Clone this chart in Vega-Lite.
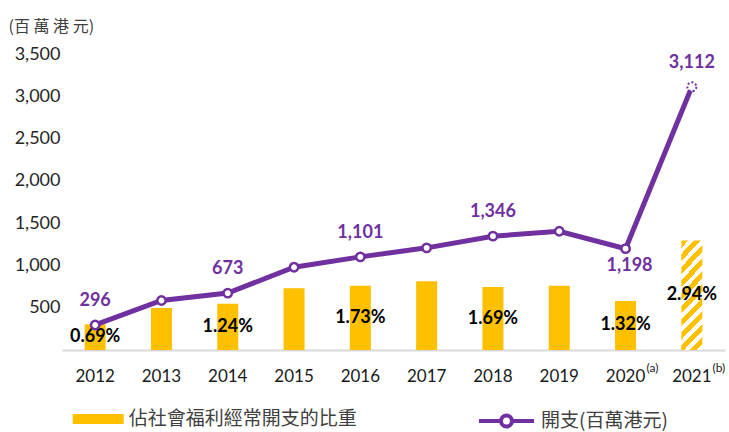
{
  "$schema": "https://vega.github.io/schema/vega-lite/v6.json",
  "width": 663,
  "height": 296,
  "autosize": {"type": "none"},
  "padding": {"left": 62, "top": 54, "right": 4, "bottom": 82},
  "background": "white",
  "config": {
    "font": "Lato",
    "view": {"stroke": null},
    "axis": {"labelColor": "#262626", "ticks": false, "domain": false}
  },
  "data": {
    "values": [
      {"year": "2012", "note": "", "pct": 0.0069, "value": 296},
      {"year": "2013", "note": "", "pct": 0.0113, "value": 585},
      {"year": "2014", "note": "", "pct": 0.0124, "value": 673},
      {"year": "2015", "note": "", "pct": 0.0166, "value": 979},
      {"year": "2016", "note": "", "pct": 0.0173, "value": 1101},
      {"year": "2017", "note": "", "pct": 0.0185, "value": 1208},
      {"year": "2018", "note": "", "pct": 0.0169, "value": 1346},
      {"year": "2019", "note": "", "pct": 0.0173, "value": 1404},
      {"year": "2020", "note": "(a)", "pct": 0.0132, "value": 1198},
      {"year": "2021", "note": "(b)", "pct": 0.0294, "value": 3112}
    ]
  },
  "encoding": {
    "x": {
      "field": "year",
      "type": "ordinal",
      "scale": {"paddingInner": 0.683, "paddingOuter": 0.3415},
      "axis": {
        "title": null,
        "labelAngle": 0,
        "labelFontSize": 17,
        "labelPadding": 18,
        "labelColor": "#1a1a1a",
        "domain": true,
        "domainColor": "#D9D9D9",
        "domainWidth": 2
      }
    }
  },
  "layer": [
    {
      "layer": [
        {
          "mark": {"type": "bar", "stroke": null},
          "encoding": {
            "y": {"field": "pct", "type": "quantitative", "scale": {"domain": [0, 0.07955]}, "axis": null},
            "fill": {
              "datum": "佔社會福利經常開支的比重",
              "scale": {"range": ["#FFC000"]},
              "condition": {
                "test": "datum.year === '2021'",
                "value": {
                  "gradient": "linear",
                  "x1": 0, "y1": 0, "x2": 0.231, "y2": 1.154,
                  "stops": [
                    {"offset": 0, "color": "#FFC000"}, {"offset": 0.055, "color": "#FFC000"}, {"offset": 0.055, "color": "#FFFFFF"}, {"offset": 0.1, "color": "#FFFFFF"},
                    {"offset": 0.1, "color": "#FFC000"}, {"offset": 0.155, "color": "#FFC000"}, {"offset": 0.155, "color": "#FFFFFF"}, {"offset": 0.2, "color": "#FFFFFF"},
                    {"offset": 0.2, "color": "#FFC000"}, {"offset": 0.255, "color": "#FFC000"}, {"offset": 0.255, "color": "#FFFFFF"}, {"offset": 0.3, "color": "#FFFFFF"},
                    {"offset": 0.3, "color": "#FFC000"}, {"offset": 0.355, "color": "#FFC000"}, {"offset": 0.355, "color": "#FFFFFF"}, {"offset": 0.4, "color": "#FFFFFF"},
                    {"offset": 0.4, "color": "#FFC000"}, {"offset": 0.455, "color": "#FFC000"}, {"offset": 0.455, "color": "#FFFFFF"}, {"offset": 0.5, "color": "#FFFFFF"},
                    {"offset": 0.5, "color": "#FFC000"}, {"offset": 0.555, "color": "#FFC000"}, {"offset": 0.555, "color": "#FFFFFF"}, {"offset": 0.6, "color": "#FFFFFF"},
                    {"offset": 0.6, "color": "#FFC000"}, {"offset": 0.655, "color": "#FFC000"}, {"offset": 0.655, "color": "#FFFFFF"}, {"offset": 0.7, "color": "#FFFFFF"},
                    {"offset": 0.7, "color": "#FFC000"}, {"offset": 0.755, "color": "#FFC000"}, {"offset": 0.755, "color": "#FFFFFF"}, {"offset": 0.8, "color": "#FFFFFF"},
                    {"offset": 0.8, "color": "#FFC000"}, {"offset": 0.855, "color": "#FFC000"}, {"offset": 0.855, "color": "#FFFFFF"}, {"offset": 0.9, "color": "#FFFFFF"},
                    {"offset": 0.9, "color": "#FFC000"}, {"offset": 0.955, "color": "#FFC000"}, {"offset": 0.955, "color": "#FFFFFF"}, {"offset": 1, "color": "#FFFFFF"}
                  ]
                }
              },
              "legend": {
                "orient": "none",
                "legendX": 10.7,
                "legendY": 339.5,
                "direction": "horizontal",
                "title": null,
                "padding": 0,
                "symbolType": "M-1,-0.2H1V0.2H-1Z",
                "symbolSize": 2601,
                "symbolStrokeWidth": 0,
                "labelFont": "Noto Sans CJK TC",
                "labelFontSize": 19,
                "labelColor": "#404040",
                "labelOffset": 5,
                "labelLimit": 0
              }
            }
          }
        },
        {
          "transform": [
            {"filter": {"field": "year", "oneOf": ["2012", "2014", "2016", "2018", "2020", "2021"]}},
            {"calculate": "datum.pct / 2", "as": "mid"}
          ],
          "mark": {"type": "text", "fontWeight": "bold", "fontSize": 18, "color": "#000000", "baseline": "middle"},
          "encoding": {
            "y": {"field": "mid", "type": "quantitative", "scale": {"domain": [0, 0.07955]}, "axis": null},
            "text": {"field": "pct", "type": "quantitative", "format": ".2%"}
          }
        }
      ]
    },
    {
      "layer": [
        {
          "mark": {"type": "line", "strokeWidth": 5},
          "encoding": {
            "y": {
              "field": "value",
              "type": "quantitative",
              "scale": {"domain": [0, 3500]},
              "axis": {
                "values": [500, 1000, 1500, 2000, 2500, 3000, 3500],
                "format": ",.0f",
                "labelFontSize": 18,
                "labelPadding": 2,
                "gridColor": "#D9D9D9",
                "gridWidth": 2,
                "title": "(百 萬 港 元)",
                "titleFont": "Noto Sans CJK TC",
                "titleFontSize": 16,
                "titleFontWeight": "normal",
                "titleColor": "#404040",
                "titleAngle": 0,
                "titleAlign": "left",
                "titleBaseline": "middle",
                "titleX": -54,
                "titleY": -28
              }
            },
            "stroke": {
              "datum": "開支(百萬港元)",
              "scale": {"range": ["#7030A0"]},
              "legend": {
                "orient": "none",
                "legendX": 415,
                "legendY": 337.5,
                "direction": "horizontal",
                "title": null,
                "padding": 0,
                "symbolType": "M-1,0H-0.2M0.2,0H1M-0.2,0A0.2,0.2,0,1,1,0.2,0A0.2,0.2,0,1,1,-0.2,0",
                "symbolSize": 3025,
                "symbolStrokeWidth": 4,
                "symbolFillColor": "#FFFFFF",
                "labelFont": "Noto Sans CJK TC",
                "labelFontSize": 19,
                "labelColor": "#404040",
                "labelOffset": 5,
                "labelLimit": 0
              }
            }
          }
        },
        {
          "transform": [{"filter": "datum.year !== '2021'"}],
          "mark": {"type": "point", "filled": true, "fill": "#FFFFFF", "stroke": "#7030A0", "strokeWidth": 2.5, "size": 70, "opacity": 1},
          "encoding": {"y": {"field": "value", "type": "quantitative"}}
        },
        {
          "transform": [{"filter": "datum.year === '2021'"}],
          "mark": {"type": "point", "filled": true, "fill": "#FFFFFF", "stroke": "#7030A0", "strokeWidth": 2, "strokeDash": [2, 2], "size": 80, "opacity": 1},
          "encoding": {"y": {"field": "value", "type": "quantitative"}}
        },
        {
          "transform": [{"filter": {"field": "year", "oneOf": ["2012", "2014", "2016", "2018", "2021"]}}],
          "mark": {"type": "text", "fontWeight": "bold", "fontSize": 18, "color": "#7030A0", "baseline": "middle", "dy": -24},
          "encoding": {
            "y": {"field": "value", "type": "quantitative"},
            "text": {"field": "value", "type": "quantitative", "format": ","}
          }
        },
        {
          "transform": [{"filter": {"field": "year", "oneOf": ["2020"]}}],
          "mark": {"type": "text", "fontWeight": "bold", "fontSize": 18, "color": "#7030A0", "baseline": "middle", "dy": 17, "dx": 4},
          "encoding": {
            "y": {"field": "value", "type": "quantitative"},
            "text": {"field": "value", "type": "quantitative", "format": ","}
          }
        },
        {
          "transform": [{"filter": "datum.note !== ''"}],
          "mark": {"type": "text", "fontSize": 12, "color": "#1a1a1a", "baseline": "middle", "align": "center", "dx": 27, "dy": 18},
          "encoding": {
            "y": {"datum": 0},
            "text": {"field": "note"}
          }
        }
      ]
    }
  ],
  "resolve": {"scale": {"y": "independent"}}
}
